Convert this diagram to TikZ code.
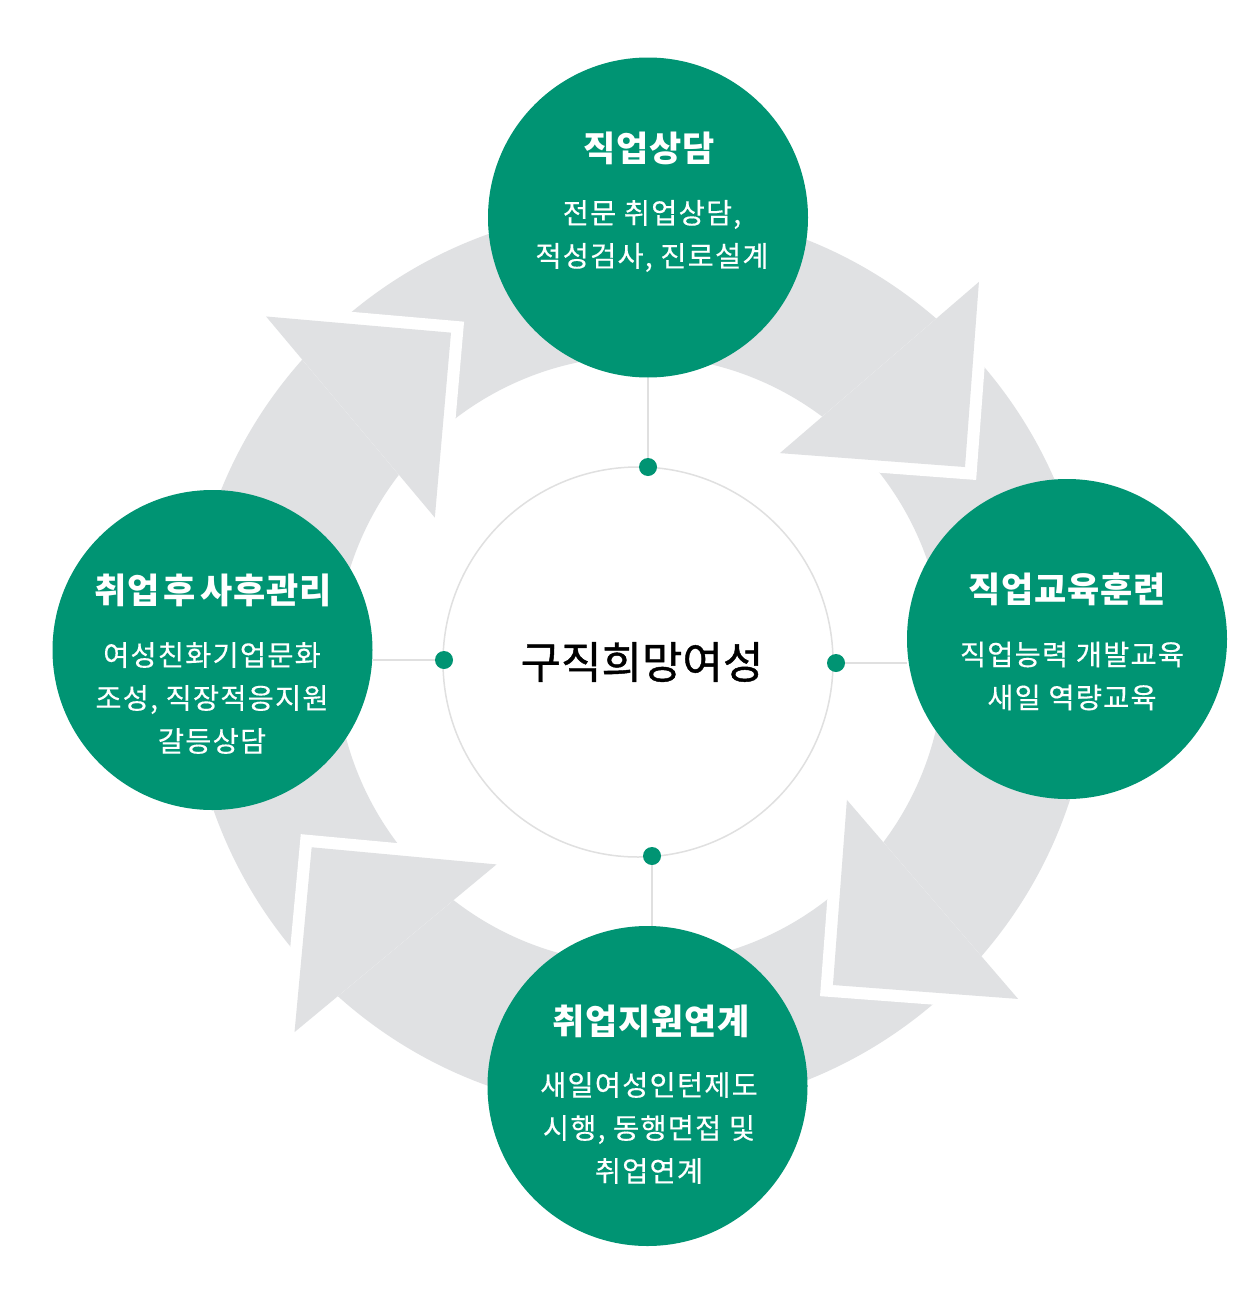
\documentclass[tikz,border=0pt]{standalone}
\usepackage{fontspec}
\setmainfont{Noto Sans CJK KR}
\usetikzlibrary{calc}
\definecolor{ringgray}{HTML}{E0E1E3}
\definecolor{kgreen}{HTML}{009473}
\definecolor{linegray}{HTML}{E0E0E0}
\begin{document}
\begin{tikzpicture}[x=1pt,y=1pt,
  stage/.style={circle, fill=kgreen, minimum size=320pt, inner sep=0pt, draw=none},
  ttl/.style={text=white, font=\fontsize{35}{40}\selectfont\bfseries\addfontfeature{LetterSpace=2}, inner sep=0pt},
  dsc/.style={text=white, font=\fontsize{28.5}{43}\selectfont\addfontfeature{LetterSpace=4,FakeBold=0.3}, align=center, inner sep=0pt},
  hubdot/.style={circle, fill=kgreen, minimum size=18pt, inner sep=0pt},
  conn/.style={draw=linegray, line width=1.5pt}]
\useasboundingbox (0,0) rectangle (1255,-1309);
\fill[white] (0,0) rectangle (1255,-1309);
\coordinate (C) at (640,-660);
% ring of arrows
\fill[ringgray, even odd rule] (C) circle[radius=452pt] (C) circle[radius=304pt];
\foreach \t in {30.7,-59.3,-150.3,120} {
  \pgfmathsetmacro{\b}{\t+20}
  \coordinate (B) at ($(C)+(\b:378)$);
  \coordinate (T) at ($(C)+(\t:378)$);
  \fill[white] ($(B)!1.13!(T)$) -- ($(B)!1.13!90:(T)$) -- ($(B)!1.13!-90:(T)$) -- cycle;
  \fill[ringgray] (T) -- ($(B)!1!90:(T)$) -- ($(B)!1!-90:(T)$) -- cycle;
}
% core
\node[circle, draw=linegray, line width=1.5pt, minimum size=390pt, inner sep=0pt] (core) at (638,-662) {};
\node[font=\fontsize{44}{48}\selectfont\addfontfeature{FakeBold=1}, text=black, inner sep=0pt] (coretext) at (642,-662) {구직희망여성};
% dots
\node[hubdot] (dtop) at (648,-467) {};
\node[hubdot] (dleft) at (444,-660) {};
\node[hubdot] (dright) at (836,-663) {};
\node[hubdot] (dbot) at (652,-856) {};
% stages
\node[stage] (ctop) at (648,-217.5) {};
\node[stage] (cright) at (1067,-639) {};
\node[stage] (cleft) at (212.5,-650) {};
\node[stage] (cbot) at (647.5,-1086) {};
% connectors
\draw[conn] (ctop) -- (dtop);
\draw[conn] (dbot) -- (dbot |- cbot.north);
\draw[conn] (dright) -- (dright -| cright.west);
\draw[conn] (dleft) -- (dleft -| cleft.east);
% texts
\node[ttl] (ttop) at (649,-148) {직업상담};
\node[dsc] (xtop) at (652,-236) {전문 취업상담,\\적성검사, 진로설계};
\node[ttl] (tright) at (1067,-589) {직업교육훈련};
\node[dsc] (xright) at (1072,-676) {직업능력 개발교육\\새일 역량교육};
\node[ttl] (tleft) at (213,-590) {취업\hspace{0.12em}후\hspace{0.12em}사후관리};
\node[dsc] (xleft) at (212,-698) {여성친화기업문화\\조성, 직장적응지원\\갈등상담};
\node[ttl] (tbot) at (651,-1021) {취업지원연계};
\node[dsc] (xbot) at (649,-1128) {새일여성인턴제도\\시행, 동행면접 및\\취업연계};
\end{tikzpicture}
\end{document}
